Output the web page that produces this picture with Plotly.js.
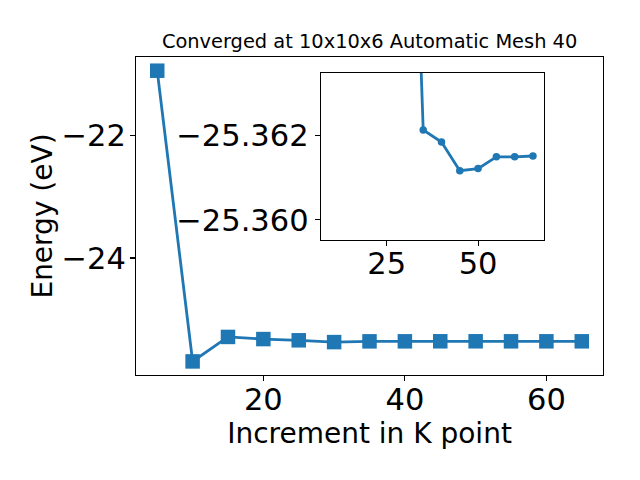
<!DOCTYPE html>
<html>
<head>
<meta charset="utf-8">
<script src="https://cdn.plot.ly/plotly-3.0.1.min.js"></script>
<style>html,body{margin:0;padding:0;background:#fff;}#chart{width:640px;height:480px;}</style>
</head>
<body>
<div id="chart"></div>
<script>
// K-point increments and total energies (eV)
const kPoints = [5, 10, 15, 20, 25, 30, 35, 40, 45, 50, 55, 60, 65];
const energy = [-20.94, -25.69, -25.29, -25.325, -25.345, -25.3746, -25.36214, -25.36185, -25.36117, -25.36122, -25.3615, -25.3615, -25.36152];
// Inset: converged region
const insetK = kPoints.slice(5);
const insetE = energy.slice(5);

const titleText = 'Converged at 10x10x6 Automatic Mesh 40';
const xLabel = 'Increment in K point';
const yLabel = 'Energy (eV)';

const blue = '#1f77b4';
const font = 'DejaVu Sans, sans-serif';
const tickFont = {family: font, size: 30.5, color: '#000'};
const labelFont = {family: font, size: 28, color: '#000'};

const axisCommon = {
  showline: true, mirror: true, linecolor: '#000', linewidth: 1.1,
  ticks: 'outside', ticklen: 5, tickwidth: 1.1, tickcolor: '#000',
  showgrid: false, zeroline: false, tickfont: tickFont
};

const traces = [
  {x: kPoints, y: energy, xaxis: 'x', yaxis: 'y', mode: 'lines+markers',
   line: {color: blue, width: 2.8},
   marker: {symbol: 'square', size: 14.5, color: blue}},
  {x: insetK, y: insetE, xaxis: 'x2', yaxis: 'y2', mode: 'lines+markers',
   line: {color: blue, width: 2.8},
   marker: {symbol: 'circle', size: 7.5, color: blue}, cliponaxis: true}
];

const layout = {
  width: 640, height: 480,
  margin: {l: 135.5, r: 36.5, t: 57, b: 104.5},
  paper_bgcolor: '#fff', plot_bgcolor: '#fff',
  showlegend: false,
  title: {text: titleText, font: {family: font, size: 19.4, color: '#000'},
          x: 0.5775, xanchor: 'center', y: 0.914, yanchor: 'middle'},
  xaxis: Object.assign({}, axisCommon, {
    domain: [0, 1], range: [2, 68], dtick: 20, tick0: 0, anchor: 'y',
    ticklabelstandoff: -8,
    title: {text: xLabel, font: labelFont, standoff: 2}
  }),
  yaxis: Object.assign({}, axisCommon, {
    domain: [0, 1], range: [-25.912, -20.716], dtick: 2, tick0: 0, anchor: 'x',
    ticklabelstandoff: -2,
    title: {text: yLabel, font: labelFont, standoff: 0}
  }),
  xaxis2: Object.assign({}, axisCommon, {
    domain: [0.3957, 0.8735], range: [7, 68], dtick: 25, tick0: 0, anchor: 'y2',
    ticklabelstandoff: -8
  }),
  yaxis2: Object.assign({}, axisCommon, {
    domain: [0.4254, 0.9507], range: [-25.35953, -25.3635],
    tickvals: [-25.362, -25.360], tickformat: '.3f', anchor: 'x2'
  })
};

Plotly.newPlot('chart', traces, layout, {displayModeBar: false, staticPlot: true});
</script>
</body>
</html>
